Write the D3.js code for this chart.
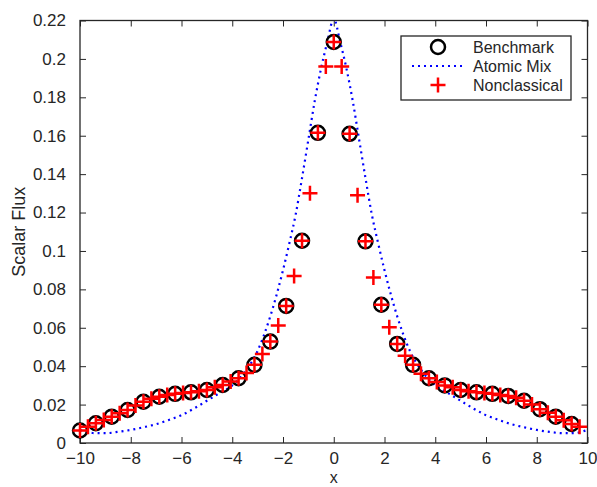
<!DOCTYPE html>
<html>
<head>
<meta charset="utf-8">
<script src="https://cdn.jsdelivr.net/npm/d3@7"></script>
<style>
  body { margin: 0; background: #fff; }
  svg { display: block; font-family: "Liberation Sans", Arial, sans-serif; }
</style>
</head>
<body>
<svg id="chart" width="597" height="487"></svg>
<script>
// benchmark (circles), every 0.625
const benchX = [-10, -9.375, -8.75, -8.125, -7.5, -6.875, -6.25, -5.625, -5, -4.375, -3.75, -3.125, -2.5, -1.875, -1.25, -0.625,
  0, 0.625, 1.25, 1.875, 2.5, 3.125, 3.75, 4.375, 5, 5.625, 6.25, 6.875, 7.5, 8.125, 8.75, 9.375];
const benchY = [0.0065, 0.0103, 0.0137, 0.0172, 0.0215, 0.0241, 0.0256, 0.0264, 0.0276, 0.0302, 0.0337, 0.0407, 0.0528, 0.0714, 0.1053, 0.1615,
  0.2088, 0.161, 0.105, 0.072, 0.0516, 0.0407, 0.0337, 0.030, 0.0276, 0.0264, 0.0256, 0.0245, 0.022, 0.0176, 0.0137, 0.0099];

// nonclassical (crosses), every 0.3125
const nonclX = [-10, -9.6875, -9.375, -9.0625, -8.75, -8.4375, -8.125, -7.8125, -7.5, -7.1875, -6.875, -6.5625, -6.25, -5.9375, -5.625, -5.3125,
  -5, -4.6875, -4.375, -4.0625, -3.75, -3.4375, -3.125, -2.8125, -2.5, -2.1875, -1.875, -1.5625, -1.25, -0.9375, -0.625, -0.3125,
  0, 0.3125, 0.625, 0.9375, 1.25, 1.5625, 1.875, 2.1875, 2.5, 2.8125, 3.125, 3.4375, 3.75, 4.0625, 4.375, 4.6875,
  5, 5.3125, 5.625, 5.9375, 6.25, 6.5625, 6.875, 7.1875, 7.5, 7.8125, 8.125, 8.4375, 8.75, 9.0625, 9.375, 9.6875];
const nonclY = [0.0065, 0.0085, 0.0103, 0.012, 0.0137, 0.0155, 0.0172, 0.0195, 0.0215, 0.023, 0.0241, 0.025, 0.0256, 0.026, 0.0264, 0.027,
  0.0276, 0.029, 0.0302, 0.032, 0.0337, 0.0365, 0.0407, 0.0464, 0.0528, 0.0612, 0.0714, 0.087, 0.1053, 0.130, 0.1615, 0.196,
  0.2088, 0.196, 0.161, 0.129, 0.105, 0.0862, 0.072, 0.0603, 0.0516, 0.0454, 0.0407, 0.036, 0.0337, 0.0317, 0.030, 0.029,
  0.0276, 0.027, 0.0264, 0.026, 0.0256, 0.025, 0.0245, 0.0235, 0.022, 0.020, 0.0176, 0.0157, 0.0137, 0.0118, 0.0099, 0.0085];

// atomic mix (dotted line)
const atomX = [-10, -9.5, -9, -8.5, -8, -7.5, -7, -6.5, -6, -5.5, -5, -4.5, -4, -3.5, -3, -2.5, -2, -1.75, -1.5, -1.25, -1, -0.75, -0.5, -0.25,
  0, 0.25, 0.5, 0.75, 1, 1.25, 1.5, 1.75, 2, 2.5, 3, 3.5, 4, 4.5, 5, 5.5, 6, 6.5, 7, 7.5, 8, 8.5, 9, 9.5, 10];
const atomY = [0.0068, 0.0052, 0.0051, 0.0058, 0.0068, 0.0082, 0.0098, 0.012, 0.0145, 0.018, 0.022, 0.026, 0.030, 0.037, 0.048, 0.066, 0.090, 0.104, 0.119, 0.138, 0.158, 0.178, 0.195, 0.209,
  0.221, 0.209, 0.195, 0.178, 0.158, 0.138, 0.119, 0.104, 0.090, 0.066, 0.048, 0.037, 0.030, 0.026, 0.022, 0.018, 0.0145, 0.012, 0.0098, 0.0082, 0.0068, 0.0058, 0.0051, 0.0052, 0.0068];

const xTicks = [-10, -8, -6, -4, -2, 0, 2, 4, 6, 8, 10];
const yTicks = [0, 0.02, 0.04, 0.06, 0.08, 0.1, 0.12, 0.14, 0.16, 0.18, 0.2, 0.22];
const legendLabels = ["Benchmark", "Atomic Mix", "Nonclassical"];

const axisColor = "#262626";
const pL = 80, pR = 587.5, pT = 20.5, pB = 443;

const svg = d3.select("#chart");
const x = d3.scaleLinear().domain([-10, 10]).range([pL, pR]);
const y = d3.scaleLinear().domain([0, 0.22]).range([pB, pT]);

// clip to plot box
svg.append("clipPath").attr("id", "clip")
  .append("rect").attr("x", pL).attr("y", pT).attr("width", pR - pL).attr("height", pB - pT);

// axes, ticks point inward
const tk = 6;
const fmtY = d => d === 0 ? "0" : String(+d.toFixed(2));
const styleAxis = g => {
  g.select(".domain").remove();
  g.selectAll("line").attr("stroke", axisColor).attr("stroke-width", 1);
  g.selectAll("text").attr("fill", axisColor).style("font-size", "17px");
};
svg.append("g").attr("transform", `translate(0,${pB})`)
  .call(d3.axisBottom(x).tickValues(xTicks).tickSizeInner(-tk).tickSizeOuter(0).tickPadding(9).tickFormat(d3.format("d")))
  .call(styleAxis);
svg.append("g").attr("transform", `translate(0,${pT})`)
  .call(d3.axisTop(x).tickValues(xTicks).tickSizeInner(-tk).tickSizeOuter(0).tickFormat(""))
  .call(styleAxis);
svg.append("g").attr("transform", `translate(${pL},0)`)
  .call(d3.axisLeft(y).tickValues(yTicks).tickSizeInner(-tk).tickSizeOuter(0).tickPadding(14).tickFormat(fmtY))
  .call(styleAxis);
svg.append("g").attr("transform", `translate(${pR},0)`)
  .call(d3.axisRight(y).tickValues(yTicks).tickSizeInner(-tk).tickSizeOuter(0).tickFormat(""))
  .call(styleAxis);

svg.append("rect")
  .attr("x", pL).attr("y", pT).attr("width", pR - pL).attr("height", pB - pT)
  .attr("fill", "none").attr("stroke", axisColor).attr("stroke-width", 1.3);

// labels
svg.append("text").attr("x", (pL + pR) / 2).attr("y", 483)
  .attr("text-anchor", "middle").attr("fill", axisColor).style("font-size", "16px").text("x");
svg.append("text").attr("transform", `translate(25,${(pT + pB) / 2}) rotate(-90)`)
  .attr("text-anchor", "middle").attr("fill", axisColor).style("font-size", "18px").text("Scalar Flux");

const plot = svg.append("g").attr("clip-path", "url(#clip)");

// atomic mix
const atom = atomX.map((v, i) => [v, atomY[i]]);
plot.append("path").datum(atom)
  .attr("d", d3.line().x(d => x(d[0])).y(d => y(d[1])).curve(d3.curveMonotoneX))
  .attr("fill", "none").attr("stroke", "#0000ff").attr("stroke-width", 2.2)
  .attr("stroke-dasharray", "2,4");

// benchmark circles
const bench = benchX.map((v, i) => [v, benchY[i]]);
svg.append("g").selectAll("circle").data(bench).join("circle")
  .attr("cx", d => x(d[0])).attr("cy", d => y(d[1])).attr("r", 7)
  .attr("fill", "none").attr("stroke", "#000").attr("stroke-width", 2.5);

// nonclassical crosses
const crossPath = (cx, cy, s) => `M${cx - s},${cy}H${cx + s}M${cx},${cy - s}V${cy + s}`;
const noncl = nonclX.map((v, i) => [v, nonclY[i]]);
svg.append("g").selectAll("path").data(noncl).join("path")
  .attr("d", d => crossPath(x(d[0]), y(d[1]), 7.5))
  .attr("stroke", "#ff0000").attr("stroke-width", 2.5).attr("fill", "none");

// legend
const lg = svg.append("g");
lg.append("rect").attr("x", 401).attr("y", 36).attr("width", 170).attr("height", 64)
  .attr("fill", "#fff").attr("stroke", axisColor).attr("stroke-width", 1.3);
const rowY = [47, 66, 85];
lg.append("circle").attr("cx", 438).attr("cy", rowY[0]).attr("r", 7)
  .attr("fill", "none").attr("stroke", "#000").attr("stroke-width", 2.5);
lg.append("line").attr("x1", 412).attr("x2", 466).attr("y1", rowY[1]).attr("y2", rowY[1])
  .attr("stroke", "#0000ff").attr("stroke-width", 2.2).attr("stroke-dasharray", "2,4");
lg.append("path").attr("d", crossPath(438, rowY[2], 7.5))
  .attr("stroke", "#ff0000").attr("stroke-width", 2.5);
legendLabels.forEach((t, i) => {
  lg.append("text").attr("x", 473).attr("y", rowY[i]).attr("dy", "0.35em")
    .attr("fill", axisColor).style("font-size", "16px").text(t);
});
</script>
</body>
</html>
